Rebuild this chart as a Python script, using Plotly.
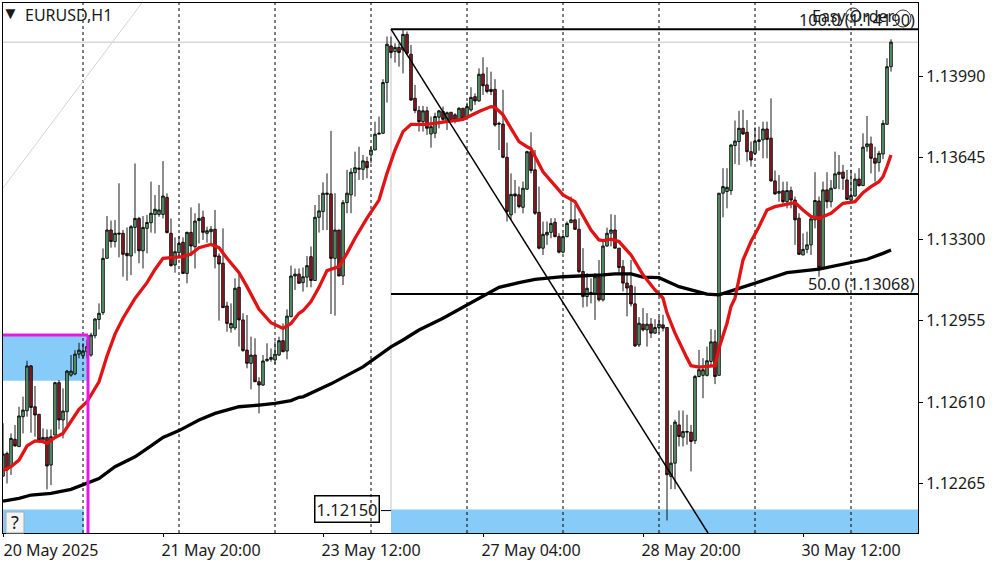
import plotly.graph_objects as go

# prices are kept in points (price * 100000)
OPEN = [112296,112392,112336,112452,112421,112548,112573,112763,112590,112558,112449,112460,112343,112470,112692,112534,112569,112724,112729,112813,
	112806,112823,112809,112891,112960,112989,113219,113339,113290,113326,113325,113240,113229,113350,113388,113251,113346,113370,113405,113405,
	113405,113477,113325,113191,113243,113287,113155,113329,113268,113379,113393,113325,113332,113342,113229,113198,113017,112924,112924,113096,
	112958,112830,112774,112809,112696,112682,112785,112791,112788,112809,112870,112826,112972,113144,113152,113116,113139,113226,113125,113393,
	113417,113490,113492,113219,113339,113144,113455,113488,113582,113596,113596,113629,113657,113678,113745,113749,113964,114119,114095,114113,
	114102,114168,114084,113897,113845,113798,113844,113746,113749,113817,113841,113798,113838,113827,113808,113855,113817,113848,113904,113886,
	114000,113954,113935,113935,113791,113788,113647,113403,113492,113488,113435,113512,113671,113594,113414,113262,113318,113329,113372,113311,
	113245,113311,113370,113382,113342,113163,113057,113068,113071,113141,113043,113271,113325,113339,113262,113184,113114,113103,113026,112852,
	112940,112916,112940,112902,112926,112937,112926,112295,112351,112513,112461,112482,112482,112446,112718,112723,112723,112782,112865,112723,
	113495,113502,113506,113697,113714,113770,113753,113671,113664,113714,113721,113767,113728,113547,113495,113505,113459,113506,113466,113389,
	113233,113257,113276,113382,113462,113180,113509,113459,113516,113575,113584,113551,113466,113483,113555,113527,113692,113704,113643,113625,
	113661,113787,114031]
HIGH = [112520,112400,112477,112513,112590,112633,112785,112767,112678,112558,112498,112494,112494,112696,112703,112668,112746,112809,112830,112861,
	112859,112873,112904,112965,113028,113261,113398,113379,113381,113537,113339,113350,113360,113621,113395,113398,113403,113544,113487,113530,
	113631,113494,113388,113308,113314,113308,113332,113435,113410,113452,113421,113353,113356,113424,113240,113346,113035,113028,113134,113148,
	112986,112979,112887,112880,112715,112809,112859,112837,112866,112887,112943,113003,113188,113176,113176,113180,113229,113269,113445,113488,
	113541,113579,113759,113495,113339,113466,113594,113601,113671,113692,113657,113650,113692,113798,113820,113978,114159,114159,114130,114130,
	114187,114180,114123,113954,113865,113865,113862,113820,113836,113848,113862,113841,113838,113834,113859,113855,113879,113944,113918,114024,
	114071,114029,114010,113978,113798,113933,113709,113579,113551,113523,113544,113675,113753,113678,113523,113375,113375,113389,113389,113325,
	113325,113375,113481,113445,113389,113262,113156,113134,113156,113212,113290,113349,113406,113403,113262,113212,113150,113212,113100,112970,
	113008,112987,112966,112961,112973,112980,112926,112513,112535,112574,112574,112556,112513,112725,112831,112796,112845,112919,112916,113495,
	113601,113601,113704,113803,113844,113848,113805,113714,113774,113777,113798,113798,113897,113591,113572,113544,113544,113523,113481,113410,
	113325,113332,113403,113584,113481,113544,113584,113551,113671,113657,113615,113594,113594,113579,113601,113749,113822,113735,113692,113675,
	113805,114067,114147]
LOW = [112294,112265,112301,112421,112421,112477,112548,112480,112463,112449,112442,112240,112258,112470,112494,112456,112513,112717,112724,112795,
	112795,112795,112802,112880,112918,112979,113219,113264,113265,113223,113141,113124,113148,113240,113198,113176,113240,113328,113325,113395,
	113388,113325,113184,113158,113226,113155,113113,113229,113176,113282,113297,113285,113282,113176,112955,113010,112908,112904,112915,112845,
	112823,112753,112664,112696,112562,112678,112781,112781,112771,112805,112823,112791,112969,113085,113113,113078,113096,113096,113125,113328,
	113339,113339,112983,112976,113144,113106,113410,113410,113481,113551,113551,113558,113622,113678,113745,113746,113879,114067,114048,114031,
	114003,114081,113886,113834,113756,113756,113742,113688,113728,113770,113798,113763,113798,113791,113798,113812,113805,113841,113869,113883,
	113911,113918,113911,113777,113678,113643,113375,113382,113410,113431,113410,113509,113579,113403,113257,113233,113276,113304,113308,113240,
	113240,113308,113370,113339,113156,113011,113014,113028,112958,113036,113036,113269,113269,113262,113156,113079,112973,113015,112843,112843,
	112909,112845,112881,112899,112902,112909,112108,112241,112241,112422,112422,112429,112316,112432,112715,112626,112718,112761,112686,112723,
	113393,113431,113488,113619,113615,113742,113629,113608,113657,113675,113643,113643,113544,113488,113459,113452,113431,113431,113276,113233,
	113233,113240,113233,113346,113141,113170,113431,113435,113512,113512,113509,113466,113459,113481,113523,113526,113671,113579,113544,113586,
	113639,113784,114010]
CLOSE = [112390,112322,112456,112424,112551,112576,112763,112587,112555,112449,112460,112339,112463,112692,112534,112572,112741,112741,112813,112830,
	112826,112845,112894,112962,112986,113219,113339,113290,113325,113322,113236,113230,113353,113388,113251,113350,113371,113410,113427,113424,
	113483,113328,113188,113247,113282,113155,113329,113271,113377,113388,113329,113336,113342,113226,113195,113010,112943,112943,113092,112958,
	112828,112774,112809,112696,112682,112784,112791,112799,112813,112870,112823,112974,113144,113152,113113,113141,113188,113125,113393,113420,
	113495,113495,113219,113339,113144,113455,113495,113584,113603,113601,113632,113603,113678,113745,113749,113964,114126,114091,114113,114091,
	114168,114088,113890,113845,113798,113844,113770,113777,113820,113844,113808,113836,113803,113805,113855,113812,113862,113901,113886,113999,
	113950,113926,113926,113784,113788,113647,113417,113490,113483,113438,113516,113671,113591,113410,113262,113321,113329,113367,113311,113245,
	113311,113367,113382,113342,113163,113057,113092,113074,113141,113043,113271,113325,113339,113262,113180,113114,113093,113026,112848,112944,
	112916,112940,112902,112926,112940,112923,112302,112351,112525,112464,112485,112485,112443,112718,112747,112747,112785,112865,112718,113495,
	113523,113520,113699,113716,113770,113746,113671,113636,113716,113721,113767,113723,113547,113492,113502,113459,113506,113466,113382,113236,
	113257,113276,113386,113464,113180,113509,113459,113516,113577,113584,113558,113469,113485,113555,113527,113690,113704,113643,113622,113664,
	113791,114031,114135]

FAST_MA_BAR = [0,2,4,6,8,10,11,13,15,17,19,21,24,26,28,30,33,36,38,40,42,45,47,49,52,54,56,59,61,64,67,70,72,74,
	75,77,79,81,84,86,88,91,94,96,98,100,102,106,110,115,119,122,123,125,127,129,131,132,135,138,140,143,145,147,149,
	150,152,154,157,160,163,165,166,168,171,172,174,178,179,181,182,183,185,187,189,191,193,196,198,200,202,204,207,210,213,215,217,219,220,221,222]
FAST_MA = [112319,112336,112364,112424,112445,112442,112435,112460,112477,112531,112579,112611,112696,112805,112898,112965,113049,113116,113172,113219,113223,113226,113237,113264,113278,113264,113219,113158,113099,113003,112946,112922,112943,112986,
	112997,113036,113096,113167,113184,113240,113304,113389,113466,113579,113678,113756,113787,113787,113796,113808,113841,113862,113859,113827,113770,113714,113692,113683,113586,113526,113488,113459,113396,113339,113297,
	113294,113300,113290,113233,113149,113085,113050,112987,112902,112796,112764,112758,112764,112838,112944,113015,113050,113212,113290,113353,113424,113438,113449,113455,113424,113396,113389,113410,113452,113459,113497,113523,113544,113565,113608,113657]

SLOW_MA_BAR = [0,4,7,12,17,21,24,28,33,37,40,44,49,53,59,64,68,72,74,75,82,90,97,100,104,110,116,122,124,129,133,140,149,150,153,157,160,164,169,176,179,184,189,196,204,212,216,220,222]
SLOW_MA = [112190,112202,112216,112223,112240,112268,112286,112336,112378,112424,112460,112489,112534,112562,112590,112597,112604,112616,112630,112632,112687,112759,112844,112873,112915,112965,113021,113074,113096,113116,113130,113141,113146,113149,113153,113153,113139,113137,113099,113067,113064,113092,113120,113158,113173,113202,113215,113240,113254]

PRICE_TICKS = [1.13990, 1.13645, 1.13300, 1.12955, 1.12610, 1.12265]
TIME_TICK_BARS = [0, 40, 80, 120, 160, 200]
TIME_TICK_LABELS = ["20 May 2025", "21 May 20:00", "23 May 12:00", "27 May 04:00", "28 May 20:00", "30 May 12:00"]
GRID_BARS = [20, 44, 68, 92, 116, 140, 164, 188, 212]

FIB_BAR = 97
FIB_100 = 1.14190
FIB_50 = 1.13068
ZONE_PRICE = 1.12150
BOX_TOP = 1.12894
BOX_BOTTOM = 1.12700
BOX_BAR = 21.25

Y_MIN = 1.12055
Y_MAX = 1.14301
X_MAX = 228.75

FONT = "Noto Sans"
BLUE = "#87cbf9"
MAGENTA = "#e618e6"


def prices(points):
	return [p / 100000 for p in points]


def box(x0, y0, x1, y1, color):
	return dict(type="rect", x0=x0, x1=x1, y0=y0, y1=y1, fillcolor=color, line_width=0, layer="below")


def line(x0, y0, x1, y1, color="black", width=1, dash="solid", layer="above"):
	return dict(type="line", x0=x0, x1=x1, y0=y0, y1=y1, layer=layer, line=dict(color=color, width=width, dash=dash))


def paper_x(px):
	return (px - 3) / 915


def paper_y(px):
	return (533 - px) / 530


def label(text, x, y, size=16, xanchor="left", **kw):
	return dict(text=text, xref="paper", yref="paper", x=paper_x(x), y=paper_y(y), xanchor=xanchor, yanchor="middle",
		showarrow=False, font=dict(family=FONT, size=size, color="#1a1a1a"), **kw)


fig = go.Figure()

fig.add_trace(go.Candlestick(
	x=list(range(len(OPEN))),
	open=prices(OPEN), high=prices(HIGH), low=prices(LOW), close=prices(CLOSE),
	whiskerwidth=0,
	increasing=dict(fillcolor="#62a676", line=dict(color="black", width=0.9)),
	decreasing=dict(fillcolor="#9a1c26", line=dict(color="black", width=0.9)),
))
fig.add_trace(go.Scatter(x=SLOW_MA_BAR, y=prices(SLOW_MA), mode="lines", line=dict(color="black", width=3.3)))
fig.add_trace(go.Scatter(x=FAST_MA_BAR, y=prices(FAST_MA), mode="lines", line=dict(color="#e01414", width=3.3)))

shapes = [
	box(0, BOX_BOTTOM, BOX_BAR, BOX_TOP, BLUE),
	box(0, Y_MIN, 20.2, 1.12155, BLUE),
	box(FIB_BAR, Y_MIN, X_MAX, 1.12155, BLUE),
]
for bar in GRID_BARS:
	shapes.append(line(bar, Y_MIN, bar, Y_MAX, width=1, dash="3px,3px", layer="below"))
last_close = CLOSE[-1] / 100000
shapes += [
	line(0, last_close, X_MAX, last_close, color="#c4c4c4", layer="below"),
	line(0, 1.13517, 34.7, Y_MAX, color="#d4d4d4", layer="below"),
	line(FIB_BAR, FIB_100, FIB_BAR, ZONE_PRICE, color="#c4c4c4", layer="below"),
	line(FIB_BAR, FIB_100, X_MAX, FIB_100, width=2),
	line(FIB_BAR, FIB_50, X_MAX, FIB_50, width=2),
	line(FIB_BAR, FIB_100, 176.25, Y_MIN, width=1.5),
	line(0, BOX_TOP, BOX_BAR, BOX_TOP, color=MAGENTA, width=3),
	line(BOX_BAR, BOX_TOP, BOX_BAR, Y_MIN, color=MAGENTA, width=3),
	line(94.5, ZONE_PRICE, FIB_BAR, ZONE_PRICE, width=1),
	dict(type="rect", xref="paper", yref="paper", x0=paper_x(6), x1=paper_x(24), y0=paper_y(533), y1=paper_y(512), fillcolor="#f4f4f4", line=dict(color="#aaaaaa", width=1)),
	dict(type="circle", xref="paper", yref="paper", x0=paper_x(846), x1=paper_x(860), y0=paper_y(22), y1=paper_y(8), line=dict(color="#333333", width=1)),
	dict(type="circle", xref="paper", yref="paper", x0=paper_x(895), x1=paper_x(911), y0=paper_y(27), y1=paper_y(10), line=dict(color="#333333", width=1)),
]

annotations = [
	label("▼", 0, 13, size=17),
	label("EURUSD,H1", 23, 15),
	label("Easy Order", 810, 16),
	label("100.0 (1.14190)", 917, 20, size=16.3, xanchor="right"),
	label("50.0 (1.13068)", 917, 284, size=16.3, xanchor="right"),
	label("1.12150", 347, 509, size=16.5, xanchor="center", bordercolor="black", borderwidth=1.5, borderpad=1),
	label("?", 15, 522, size=18, xanchor="center"),
]

fig.update_layout(
	width=1000, height=562,
	margin=dict(l=3, r=82, t=3, b=29),
	paper_bgcolor="white", plot_bgcolor="white",
	showlegend=False, boxgap=0.08,
	font=dict(family=FONT, size=16, color="#1a1a1a"),
	shapes=shapes, annotations=annotations,
	xaxis=dict(
		range=[0, X_MAX], rangeslider=dict(visible=False), showgrid=False, zeroline=False, automargin=False,
		showline=True, linecolor="black", linewidth=1, mirror=True,
		tickmode="array", tickvals=TIME_TICK_BARS, ticktext=TIME_TICK_LABELS,
		ticks="outside", ticklen=3, tickcolor="black", ticklabelshift=48,
	),
	yaxis=dict(
		range=[Y_MIN, Y_MAX], side="right", showgrid=False, zeroline=False, automargin=False,
		showline=True, linecolor="black", linewidth=1, mirror=True,
		tickmode="array", tickvals=PRICE_TICKS, ticktext=["%.5f" % p for p in PRICE_TICKS],
		ticks="outside", ticklen=4, tickcolor="black",
	),
)

fig.write_html("out.html", config=dict(displayModeBar=False),
	post_script="document.body.style.margin='0';document.body.style.overflow='hidden';")
